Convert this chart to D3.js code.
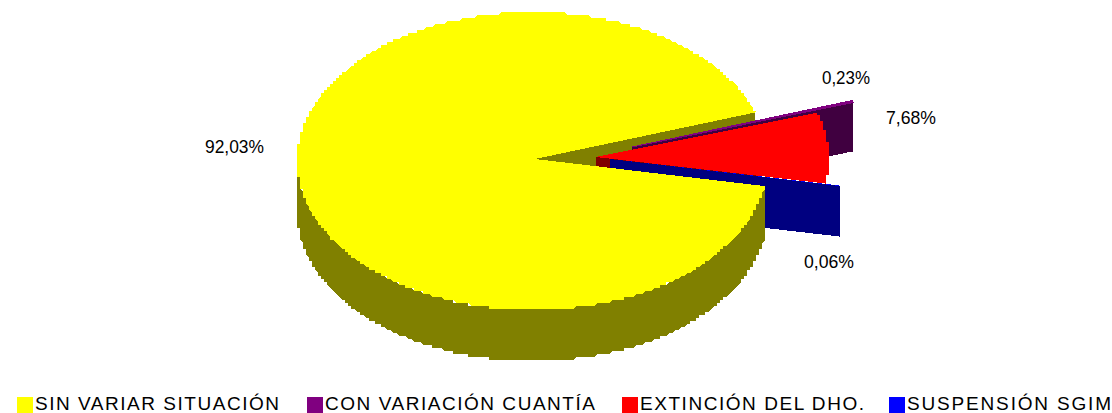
<!DOCTYPE html>
<html>
<head>
<meta charset="utf-8">
<script src="https://cdnjs.cloudflare.com/ajax/libs/d3/7.8.5/d3.min.js"></script>
<style>
  html, body { margin: 0; background: #fff; }
  svg { display: block; }
  text { font-family: "Liberation Sans", Arial, sans-serif; fill: #000; }
</style>
</head>
<body>
<div id="chart"></div>
<script>
// Values
var categories = ["SIN VARIAR SITUACIÓN", "CON VARIACIÓN CUANTÍA", "EXTINCIÓN DEL DHO.", "SUSPENSIÓN SGIM"];
var values = [92.03, 0.23, 7.68, 0.06];
var valueLabels = ["92,03%", "0,23%", "7,68%", "0,06%"];
var topColors = ["#ffff00", "#800080", "#ff0000", "#0000ff"];
var wallColors = ["#808000", "#400040", "#800000", "#000080"];

var width = 1112, height = 413;
var depth = 51;
var stepSize = 3; // the original has a blocky rim

// Ellipse of the pie
var x = d3.scaleLinear().domain([-1, 1]).range([297, 768]);
var y = d3.scaleLinear().domain([-1, 1]).range([12, 310]);

// The slices meet a bit off the middle of the ellipse
var apexShift = [2.5, -2];

// How far each slice is pulled out of the pie, in pixels
var explode = [[0, 0], [97, -12], [61, -2], [75, 0]];

// Label and legend places
var labelPos = [[234.5, 146], [846, 77], [911, 117], [829, 261]];
var labelWidth = [59, 48, 50, 50];
var legendBox = [17, 307, 622, 889];
var legendWidth = [244, 270, 224, 204];

var svg = d3.select('#chart').append('svg')
    .attr('width', width)
    .attr('height', height);

var toRad = Math.PI / 180;
var pie = d3.pie().sort(null).startAngle(99.7 * toRad).endAngle(459.7 * toRad);
var slices = pie(values);

var line = d3.line();

function snap(v) {
    return Math.round(v / stepSize) * stepSize;
}

// d3 angles start at 12 o'clock and go clockwise
function point(a, i, dy, blocky) {
    var px = x(Math.sin(a)), py = y(-Math.cos(a));
    if (blocky) {
        px = 297 + snap(px - 297);
        py = 12 + snap(py - 12);
    }
    return [px + explode[i][0], py + explode[i][1] + (dy || 0)];
}

function apex(i, dy) {
    return [x(0) + apexShift[0] + explode[i][0], y(0) + apexShift[1] + explode[i][1] + (dy || 0)];
}

function rimPoints(start, end, i, dy) {
    var n = Math.max(2, Math.ceil((end - start) * 120));
    return d3.range(n + 1).map(function (k) {
        var a = start + (end - start) * k / n;
        return point(a, i, dy, k > 0 && k < n);
    });
}

function topPath(d, i) {
    return line([apex(i)].concat(rimPoints(d.startAngle, d.endAngle, i))) + 'Z';
}

function outerWall(start, end, i) {
    return line(rimPoints(start, end, i).concat(rimPoints(start, end, i, depth).reverse())) + 'Z';
}

function cutWall(a, i) {
    return line([apex(i), point(a, i), point(a, i, depth), apex(i, depth)]) + 'Z';
}

var g = svg.append('g').attr('shape-rendering', 'crispEdges');

function addPath(path, color) {
    return g.append('path').attr('d', path).attr('fill', color);
}

// Painted back to front: inner face of the big slice, small slices, then the big slice
addPath(cutWall(slices[0].endAngle, 0), wallColors[0]);

[1, 2, 3].forEach(function (i) {
    var d = slices[i];
    addPath(outerWall(d.startAngle, d.endAngle, i), wallColors[i]);
    addPath(cutWall(d.startAngle, i), wallColors[i]);
    var top = addPath(topPath(d, i), topColors[i]);
    // the purple slice is so thin that it needs an outline to show at all
    if (i === 1) top.attr('stroke', topColors[i]).attr('stroke-width', 1);
});

// only the front half of the big rim can be seen
addPath(outerWall(slices[0].startAngle, 270 * toRad, 0), wallColors[0]);
addPath(topPath(slices[0], 0), topColors[0]);

// Value labels
svg.selectAll('.val')
    .data(valueLabels)
    .enter()
    .append('text')
    .attr('class', 'val')
    .attr('x', (d, i) => labelPos[i][0])
    .attr('y', (d, i) => labelPos[i][1])
    .attr('dy', '0.36em')
    .attr('text-anchor', 'middle')
    .attr('textLength', (d, i) => labelWidth[i])
    .attr('lengthAdjust', 'spacingAndGlyphs')
    .style('font-size', '19px')
    .text(d => d);

// Legend
var legend = svg.selectAll('.legend')
    .data(categories)
    .enter()
    .append('g')
    .attr('class', 'legend')
    .attr('transform', (d, i) => 'translate(' + legendBox[i] + ',0)');

legend.append('rect')
    .attr('x', 0)
    .attr('y', 397)
    .attr('width', 16)
    .attr('height', 16)
    .attr('fill', (d, i) => topColors[i]);

legend.append('text')
    .attr('x', 18)
    .attr('y', 410)
    .attr('textLength', (d, i) => legendWidth[i])
    .attr('lengthAdjust', 'spacing')
    .style('font-size', '19px')
    .text(d => d);
</script>
</body>
</html>
